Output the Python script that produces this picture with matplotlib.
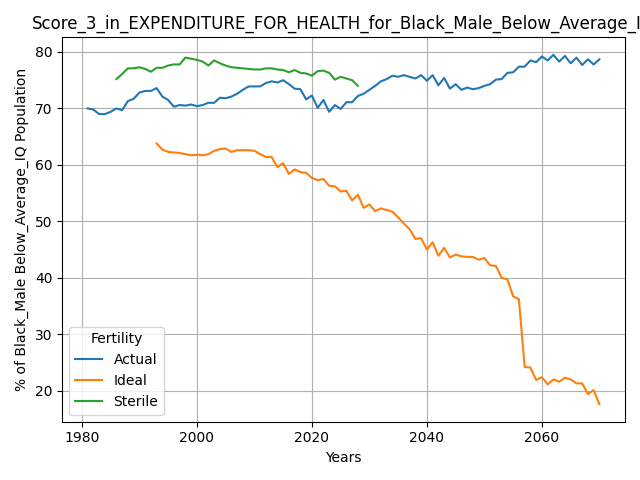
import numpy as np
import matplotlib
matplotlib.use("Agg")
import matplotlib.pyplot as plt

actual = [70.0, 69.8, 69.0, 69.0, 69.4, 70.0, 69.7, 71.3, 71.7, 72.8, 73.1, 73.1, 73.6, 72.1, 71.5,
          70.3, 70.6, 70.5, 70.7, 70.4, 70.6, 71.0, 71.0, 71.9, 71.8, 72.1, 72.6, 73.3, 73.9, 73.9,
          73.9, 74.5, 74.8, 74.6, 75.0, 74.3, 73.5, 73.4, 71.6, 72.3, 70.1, 71.5, 69.4, 70.6, 69.9,
          71.1, 71.1, 72.2, 72.6, 73.3, 74.0, 74.8, 75.2, 75.8, 75.6, 75.9, 75.6, 75.3, 75.9, 74.9,
          75.9, 74.1, 75.4, 73.5, 74.3, 73.3, 73.7, 73.4, 73.6, 74.0, 74.3, 75.1, 75.2, 76.3, 76.4,
          77.4, 77.4, 78.5, 78.2, 79.2, 78.5, 79.5, 78.3, 79.3, 78.0, 79.0, 77.7, 78.7, 77.8, 78.7]
sterile = [75.2, 76.1, 77.1, 77.1, 77.3, 77.0, 76.5, 77.2, 77.2, 77.6, 77.8, 77.8, 79.0, 78.8, 78.6,
           78.3, 77.6, 78.5, 78.0, 77.6, 77.3, 77.2, 77.1, 77.0, 76.9, 76.9, 77.1, 77.1, 76.9, 76.8,
           76.4, 76.8, 76.3, 76.2, 75.8, 76.6, 76.7, 76.3, 75.1, 75.6, 75.3, 75.0, 74.0]
ideal = [63.8, 62.7, 62.3, 62.2, 62.1, 61.9, 61.7, 61.8, 61.7, 61.9, 62.5, 62.8, 62.9, 62.3, 62.6,
         62.6, 62.6, 62.5, 61.9, 61.4, 61.4, 59.6, 60.3, 58.4, 59.2, 58.7, 58.6, 57.7, 57.3, 57.5,
         56.3, 56.2, 55.3, 55.4, 53.7, 54.7, 52.4, 53.0, 51.8, 52.3, 52.0, 51.7, 50.7, 49.6, 48.6,
         46.9, 47.0, 45.0, 46.3, 43.9, 45.3, 43.6, 44.1, 43.8, 43.7, 43.7, 43.2, 43.5, 42.2, 42.1,
         40.0, 39.7, 36.7, 36.2, 24.2, 24.1, 21.9, 22.4, 21.1, 22.0, 21.6, 22.3, 22.0, 21.3, 21.3,
         19.4, 20.1, 17.6]

fig, ax = plt.subplots(figsize=(6.4, 4.8), dpi=100)
ax.plot(np.arange(1981, 1981 + len(actual)), actual, label="Actual")
ax.plot(np.arange(2071 - len(ideal), 2071), ideal, label="Ideal")
ax.plot(np.arange(1986, 1986 + len(sterile)), sterile, label="Sterile")
ax.set_title("Score_3_in_EXPENDITURE_FOR_HEALTH_for_Black_Male_Below_Average_IQ")
ax.set_xlabel("Years")
ax.set_ylabel("% of Black_Male Below_Average_IQ Population")
ax.grid(True)
ax.legend(title="Fertility", loc="lower left")
fig.tight_layout()
fig.savefig("out.png")
